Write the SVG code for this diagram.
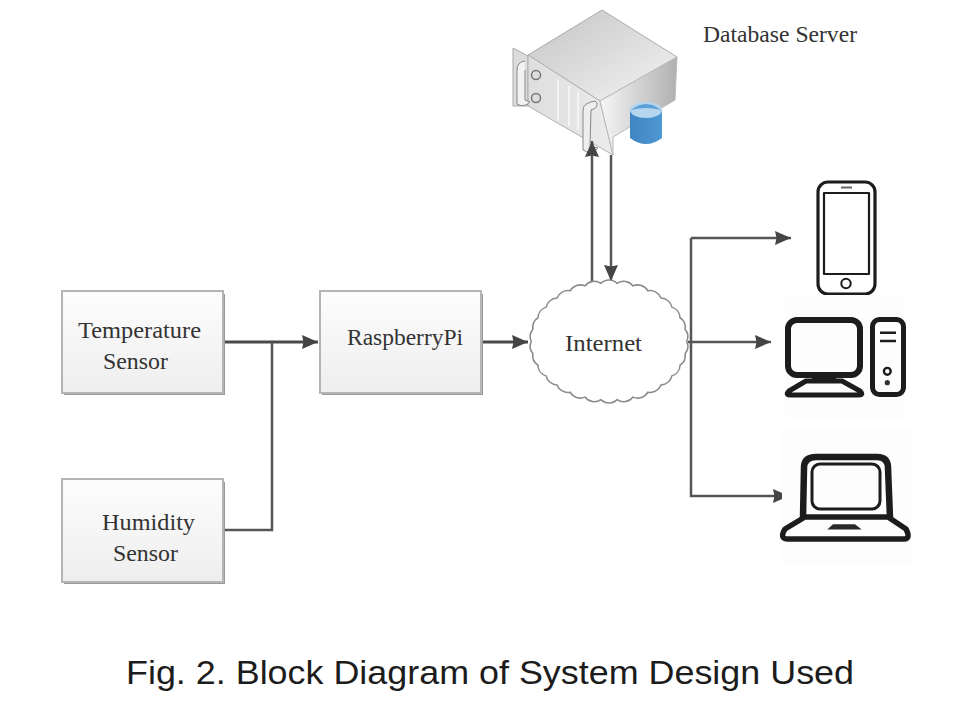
<svg xmlns="http://www.w3.org/2000/svg" width="974" height="710" viewBox="0 0 974 710">
<style>
.lbl{font-family:"Liberation Serif","Times New Roman",serif;font-size:23px;fill:#333}
.cap{font-family:"Liberation Sans",Arial,sans-serif;font-size:33.5px;fill:#1c1c1c}
.box{fill:url(#boxg);stroke:#b4b4b4;stroke-width:2}
.shadow{fill:#999}
.icon{fill:none;stroke:#1d1d1d;stroke-linejoin:round}
.wire{fill:none;stroke:#4a4a4a;stroke-width:3}
.thin{fill:none;stroke:#555;stroke-width:2.5}
</style>
<defs>
<linearGradient id="boxg" x1="0" y1="0" x2="0" y2="1"><stop offset="0" stop-color="#fdfdfd"/><stop offset="1" stop-color="#eeeeee"/></linearGradient>
<linearGradient id="top" x1="0" y1="0" x2="1" y2="1"><stop offset="0" stop-color="#c4c4c4"/><stop offset="1" stop-color="#f4f4f4"/></linearGradient>
<linearGradient id="front" x1="0" y1="0" x2="1" y2="0"><stop offset="0" stop-color="#dedede"/><stop offset="1" stop-color="#ebebeb"/></linearGradient>
<linearGradient id="side" x1="0" y1="0" x2="1" y2="0"><stop offset="0" stop-color="#f6f6f6"/><stop offset="1" stop-color="#b0b0b0"/></linearGradient>
<linearGradient id="cyl" x1="0" y1="0" x2="1" y2="0"><stop offset="0" stop-color="#3f86c4"/><stop offset="1" stop-color="#4f97d2"/></linearGradient>
<filter id="soft" x="-5%" y="-5%" width="110%" height="110%"><feGaussianBlur stdDeviation="0.6"/></filter>
<marker id="arr" markerUnits="userSpaceOnUse" markerWidth="18" markerHeight="16" refX="16" refY="8" orient="auto"><path d="M0,1 L16,8 L0,15 L1.5,8 Z" fill="#444"/></marker>
</defs>
<rect width="974" height="710" fill="#fff"/>

<g id="server" filter="url(#soft)">
<path d="M513,48 L528,56 L528,106 L513,106 Z" fill="#dcdcdc" stroke="#aaa"/>
<path d="M528,55 L602,10 L677,57 L600,101 Z" fill="url(#top)" stroke="#aaa"/>
<path d="M528,55 L600,101 L613,155 L528,106 Z" fill="url(#front)" stroke="#b0b0b0"/>
<path d="M600,101 L677,57 L675,100 L613,137 L613,155 Z" fill="url(#side)" stroke="#bbb"/>
<path d="M525,61 Q517,62 517,70 L517,104 Q524,108 530,102 L525,100 L525,70" fill="#f2f2f2" stroke="#888"/>
<path d="M595,101 Q583,103 583,110 L583,150 Q590,155 598,148 L590,146 L591,110 Q598,108 597,103 Z" fill="#eee" stroke="#888"/>
<circle cx="536" cy="75" r="4.5" fill="#ddd" stroke="#777" stroke-width="1.5"/>
<circle cx="536" cy="98" r="4.5" fill="#ddd" stroke="#777" stroke-width="1.5"/>
<path d="M558,80 V120 M569,86 V126 M578,92 V130" stroke="#f4f4f4" stroke-width="2" fill="none"/>
</g>
<g id="database" filter="url(#soft)">
<path d="M630,110 V138 Q646,150 662,138 V110 Z" fill="url(#cyl)"/>
<ellipse cx="646" cy="110" rx="16" ry="8" fill="#b5d6ee"/>
<path d="M631,110 Q646,98 661,110 Q646,106 631,110 Z" fill="#5ba0d8"/>
</g>
<text class="lbl" x="703" y="42" textLength="154" lengthAdjust="spacingAndGlyphs">Database Server</text>

<g id="connectors" filter="url(#soft)">
<path class="wire" d="M222,342 H318" marker-end="url(#arr)"/>
<path class="thin" d="M223,530 H272 V342"/>
<path class="wire" d="M481,342 H528" marker-end="url(#arr)"/>
<path class="thin" d="M592,282 V141" marker-end="url(#arr)"/>
<path class="thin" d="M611,155 V281" marker-end="url(#arr)"/>
<path class="thin" d="M691,238 V496 H789" marker-end="url(#arr)"/>
<path class="thin" d="M691,238 H791" marker-end="url(#arr)"/>
<path class="thin" d="M688,342 H771" marker-end="url(#arr)"/>
</g>

<g id="temperature">
<rect class="shadow" x="64" y="294" width="161" height="101" filter="url(#soft)"/>
<rect class="box" x="62" y="291" width="161" height="102"/>
<text class="lbl" x="78" y="338" textLength="123" lengthAdjust="spacingAndGlyphs">Temperature</text>
<text class="lbl" x="103" y="369" textLength="65" lengthAdjust="spacingAndGlyphs">Sensor</text>
</g>
<g id="humidity">
<rect class="shadow" x="64" y="482" width="161" height="102" filter="url(#soft)"/>
<rect class="box" x="62" y="479" width="161" height="103"/>
<text class="lbl" x="102" y="530" textLength="93" lengthAdjust="spacingAndGlyphs">Humidity</text>
<text class="lbl" x="113" y="561" textLength="65" lengthAdjust="spacingAndGlyphs">Sensor</text>
</g>
<g id="raspberrypi">
<rect class="shadow" x="322" y="294" width="161" height="101" filter="url(#soft)"/>
<rect class="box" x="320" y="291" width="161" height="102"/>
<text class="lbl" x="347" y="345" textLength="116" lengthAdjust="spacingAndGlyphs">RaspberryPi</text>
</g>

<g id="internet">
<path filter="url(#soft)" fill="#fff" stroke="#8a8a8a" stroke-width="1.6" transform="translate(609 341.5) scale(.96 .95) translate(-609 -341.5)" d="M690,341.5 A12,12 0 0 1 688.2,354.3 A12,12 0 0 1 683,366.5 A12,12 0 0 1 674.5,377.7 A12,12 0 0 1 663.2,387.2 A12,12 0 0 1 649.5,394.8 A12,12 0 0 1 634,400 A12,12 0 0 1 617.5,402.7 A12,12 0 0 1 600.5,402.7 A12,12 0 0 1 584,400 A12,12 0 0 1 568.5,394.8 A12,12 0 0 1 554.8,387.2 A12,12 0 0 1 543.5,377.7 A12,12 0 0 1 535,366.5 A12,12 0 0 1 529.8,354.3 A12,12 0 0 1 528,341.5 A12,12 0 0 1 529.8,328.7 A12,12 0 0 1 535,316.5 A12,12 0 0 1 543.5,305.3 A12,12 0 0 1 554.8,295.8 A12,12 0 0 1 568.5,288.2 A12,12 0 0 1 584,283 A12,12 0 0 1 600.5,280.3 A12,12 0 0 1 617.5,280.3 A12,12 0 0 1 634,283 A12,12 0 0 1 649.5,288.2 A12,12 0 0 1 663.2,295.8 A12,12 0 0 1 674.5,305.3 A12,12 0 0 1 683,316.5 A12,12 0 0 1 688.2,328.7 A12,12 0 0 1 690,341.5 Z"/>
<text class="lbl" x="565" y="351" textLength="77" lengthAdjust="spacingAndGlyphs">Internet</text>
</g>

<g id="phone" filter="url(#soft)">
<rect class="icon" x="818" y="182" width="57" height="112" rx="10" stroke-width="3.2"/>
<rect class="icon" x="824" y="193" width="45" height="81" stroke-width="2.2"/>
<circle class="icon" cx="846" cy="283.5" r="4.7" stroke-width="2"/>
<path d="M841,187.5 H852" stroke-width="2" stroke="#666" fill="none"/>
</g>

<g id="computer" filter="url(#soft)">
<rect x="785" y="295" width="120" height="123" fill="#fdfdfd"/>
<rect class="icon" x="788" y="320" width="72" height="55" rx="9" stroke-width="6"/>
<path d="M813,375 H835 L837,381 H811 Z" fill="#1d1d1d"/>
<path class="icon" d="M806,381 H842 L860,391 Q864,395 859,395 H790 Q785,395 789,391 Z" stroke-width="5"/>
<rect class="icon" x="872.5" y="319.5" width="31" height="75" rx="7" stroke-width="5"/>
<path class="icon" d="M880,332.7 H896 M880,341 H896" stroke-width="2.6"/>
<circle class="icon" cx="887.3" cy="371.3" r="3.4" stroke-width="2.4"/>
<circle cx="887.3" cy="382.7" r="2.6" fill="#333"/>
</g>

<g id="laptop" filter="url(#soft)">
<rect x="782" y="430" width="130" height="136" fill="#fdfdfd"/>
<path class="icon" d="M803,518 L804,468 Q804,457 816,457 H877 Q888,457 888,468 L890,518" stroke-width="6.5"/>
<rect class="icon" x="812" y="464" width="68" height="45" rx="8" stroke-width="3"/>
<path class="icon" d="M805,517 H888 L906,529 Q911,539 904,539 H788 Q779,539 785,529 Z" stroke-width="5.5"/>
<path d="M833,524.3 H855 L861.7,529.5 H827.3 Z" fill="#2a2a2a"/>
</g>

<text class="cap" x="126" y="684" textLength="728" lengthAdjust="spacingAndGlyphs">Fig. 2. Block Diagram of System Design Used</text>
</svg>
